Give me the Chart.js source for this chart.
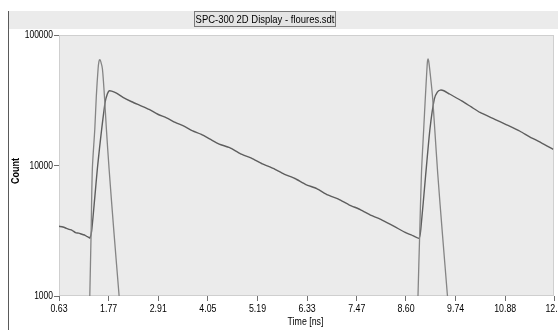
<!DOCTYPE html>
<html>
<head>
<meta charset="utf-8">
<script src="https://cdn.jsdelivr.net/npm/chart.js@4.4.1/dist/chart.umd.min.js"></script>
<style>
  html, body { margin: 0; padding: 0; background: #ffffff; }
  #wrap { width: 558px; height: 330px; position: relative; }
</style>
</head>
<body>
<div id="wrap"><canvas id="chart" width="558" height="330"></canvas></div>
<script>
// axis ticks
var xTickValues = [0.63, 1.77, 2.91, 4.05, 5.19, 6.33, 7.47, 8.60, 9.74, 10.88, 12.0];
var xTickLabels = ['0.63', '1.77', '2.91', '4.05', '5.19', '6.33', '7.47', '8.60', '9.74', '10.88', '12.0'];
var yTickValues = [1000, 10000, 100000];
var yTickLabels = ['1000', '10000', '100000'];
var chartTitle = 'SPC-300 2D Display - floures.sdt';
var xTitle = 'Time [ns]';
var yTitle = 'Count';

// fluorescence decay (counts vs time)
var decayTime = [0.63, 0.72, 0.80, 0.86, 0.93, 1.01, 1.08, 1.17, 1.23, 1.26, 1.30, 1.34,
  1.38, 1.45, 1.51, 1.56, 1.61, 1.69, 1.74, 1.78, 1.84, 1.95, 2.10, 2.30, 2.50, 2.70,
  2.90, 3.10, 3.30, 3.50, 3.70, 3.90, 4.10, 4.31, 4.55, 4.80, 5.05, 5.30, 5.55, 5.80,
  6.05, 6.30, 6.55, 6.80, 7.05, 7.30, 7.55, 7.80, 8.05, 8.34, 8.57, 8.72, 8.90,
  8.94, 9.05, 9.15, 9.25, 9.32, 9.39, 9.47, 9.60, 9.88, 10.10, 10.30, 10.64, 10.90,
  11.22, 11.45, 11.70, 11.98];
var decayCount = [3420, 3380, 3300, 3240, 3190, 3060, 3030, 2960, 2920, 2870, 2830, 2780,
  3150, 5600, 9360, 13500, 18970, 30600, 35250, 37330, 37100, 35900, 33300, 30800, 28800, 26900,
  24700, 23200, 21400, 20000, 18400, 17300, 15900, 14600, 13700, 12300, 11400, 10300, 9500, 8600,
  7950, 7150, 6650, 5950, 5520, 4980, 4600, 4150, 3820, 3400, 3080, 2940, 2770,
  3240, 8300, 18970, 32300, 36500, 37850, 37400, 35300, 31300, 28100, 25500, 22600, 20600,
  18300, 16500, 15000, 13300];

// instrument response, two pulses (null splits them)
var irfTime = [1.318, 1.337, 1.367, 1.396, 1.452, 1.488, 1.528, 1.547, 1.567, 1.590, 1.627,
  1.673, 1.719, 1.781, 1.896, 2.011, 2.082, 5.0,
  8.86, 8.876, 8.915, 8.955, 9.007, 9.047, 9.077, 9.092, 9.107, 9.125, 9.153, 9.208,
  9.261, 9.330, 9.438, 9.553, 9.62];
var irfCount = [500, 1000, 2965, 9360, 18970, 34200, 55100, 62500, 64600, 62500, 55100,
  34200, 18970, 9360, 2965, 1000, 500, null,
  500, 1000, 2965, 8600, 18970, 34200, 51760, 62000, 65500, 62000, 51760, 34200,
  18970, 8600, 2965, 1000, 500];

function toPoints(xs, ys) {
    var pts = [];
    for (var i = 0; i < xs.length; i++) {
        pts.push({ x: xs[i], y: ys[i] });
    }
    return pts;
}

var fontFamily = "'Liberation Sans', Arial, sans-serif";

// the original uses a narrow font, so squeeze text sideways
function narrowText(ctx, text, x, y, align, squeeze, font) {
    ctx.save();
    ctx.font = font;
    ctx.textAlign = align;
    ctx.textBaseline = 'middle';
    ctx.fillStyle = '#000000';
    ctx.translate(x, y);
    ctx.scale(squeeze, 1);
    ctx.fillText(text, 0, 0);
    ctx.restore();
}

// window frame, title box and plot background
var framePlugin = {
    id: 'frame',
    beforeDraw: function (chart) {
        var ctx = chart.ctx;
        var a = chart.chartArea;
        ctx.save();
        ctx.fillStyle = '#ffffff';
        ctx.fillRect(0, 0, chart.width, chart.height);
        // top band
        ctx.fillStyle = '#ebebeb';
        ctx.fillRect(9, 11, chart.width - 9, 18);
        // left window edge
        ctx.strokeStyle = '#5a5a5a';
        ctx.lineWidth = 1;
        ctx.beginPath();
        ctx.moveTo(8.5, 11);
        ctx.lineTo(8.5, chart.height);
        ctx.stroke();
        // title box
        ctx.fillStyle = '#e4e4e4';
        ctx.fillRect(194.5, 11.5, 141, 15);
        ctx.strokeStyle = '#7a7a7a';
        ctx.strokeRect(194.5, 11.5, 141, 15);
        // plot area
        ctx.fillStyle = '#ebebeb';
        ctx.fillRect(a.left, a.top, a.right - a.left, a.bottom - a.top);
        ctx.strokeStyle = '#cfcfcf';
        ctx.strokeRect(a.left + 0.5, a.top + 0.5, a.right - a.left - 1, a.bottom - a.top - 1);
        ctx.restore();
    },
    afterDraw: function (chart) {
        var ctx = chart.ctx;
        var xs = chart.scales.x;
        var ys = chart.scales.y;
        var f11 = '11px ' + fontFamily;
        narrowText(ctx, chartTitle, 265, 19.5, 'center', 0.86, f11);
        for (var i = 0; i < xTickValues.length; i++) {
            narrowText(ctx, xTickLabels[i], xs.getPixelForValue(xTickValues[i]), 309, 'center', 0.8, f11);
        }
        for (var j = 0; j < yTickValues.length; j++) {
            narrowText(ctx, yTickLabels[j], 53, ys.getPixelForValue(yTickValues[j]), 'right', 0.77, f11);
        }
        narrowText(ctx, xTitle, (chart.chartArea.left + chart.chartArea.right) / 2 - 1, 322, 'center', 0.8, f11);
        ctx.save();
        ctx.translate(16, 171);
        ctx.rotate(-Math.PI / 2);
        narrowText(ctx, yTitle, 0, 0, 'center', 0.9, 'bold 10px ' + fontFamily);
        ctx.restore();
    }
};

var ctx = document.getElementById('chart');
var chart = new Chart(ctx, {
    type: 'line',
    data: {
        datasets: [{
            label: 'IRF',
            data: toPoints(irfTime, irfCount),
            borderColor: '#858585',
            borderWidth: 1.3,
            pointRadius: 0,
            tension: 0.3,
            spanGaps: false
        }, {
            label: 'Decay',
            data: toPoints(decayTime, decayCount),
            borderColor: '#5e5e5e',
            borderWidth: 1.4,
            pointRadius: 0,
            tension: 0.2
        }]
    },
    options: {
        responsive: false,
        animation: false,
        events: [],
        layout: { padding: { top: 35, right: 4, left: 0, bottom: 0 } },
        plugins: {
            legend: { display: false },
            title: { display: false },
            tooltip: { enabled: false }
        },
        scales: {
            x: {
                type: 'linear',
                min: 0.63,
                max: 12.0,
                afterBuildTicks: function (scale) {
                    scale.ticks = xTickValues.map(function (v) { return { value: v }; });
                },
                afterFit: function (scale) {
                    scale.height = 34;
                    scale.paddingLeft = 0;
                    scale.paddingRight = 0;
                },
                ticks: { display: false, autoSkip: false, maxRotation: 0 },
                grid: { drawOnChartArea: false, drawTicks: true, tickLength: 5, color: '#707070' },
                border: { display: false }
            },
            y: {
                type: 'logarithmic',
                min: 1000,
                max: 100000,
                afterBuildTicks: function (scale) {
                    scale.ticks = yTickValues.map(function (v) { return { value: v }; });
                },
                afterFit: function (scale) {
                    scale.width = 59;
                    scale.paddingTop = 0;
                    scale.paddingBottom = 0;
                },
                ticks: { display: false },
                grid: { drawOnChartArea: false, drawTicks: true, tickLength: 5, color: '#707070' },
                border: { display: false }
            }
        }
    },
    plugins: [framePlugin]
});
</script>
</body>
</html>
